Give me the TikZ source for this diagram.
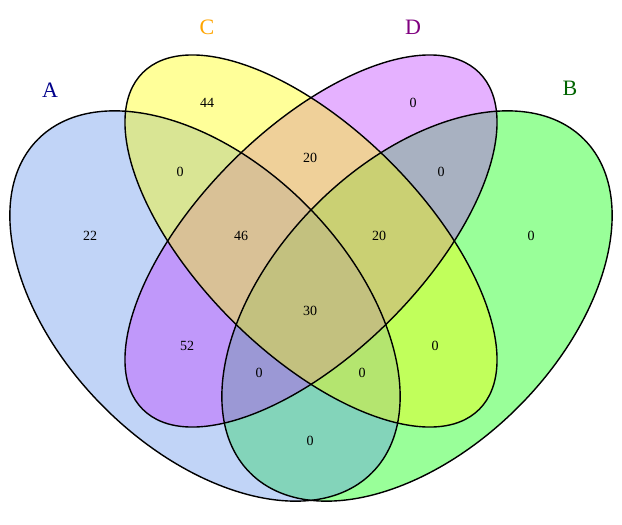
\documentclass[tikz,border=0pt]{standalone}
\usepackage{fontspec}
\setmainfont{Liberation Serif}
\begin{document}
\begin{tikzpicture}[x=1pt,y=-1pt,
  set/.style={fill opacity=0.4},
  edge/.style={draw=black,line width=1.4pt},
  num/.style={font=\fontsize{14}{14}\selectfont},
  lab/.style={font=\fontsize{22}{22}\selectfont}]
\useasboundingbox (0,0) rectangle (622,525);
\fill[white] (0,0) rectangle (622,525);
\definecolor{cA}{RGB}{100,149,237}
\definecolor{cB}{RGB}{0,255,0}
\definecolor{cC}{RGB}{255,255,0}
\definecolor{cD}{RGB}{191,62,255}
\fill[set,cB] (417,306) ellipse [x radius=236,y radius=143,rotate=45];
\fill[set,cA] (205,306) ellipse [x radius=236,y radius=143,rotate=-45];
\fill[set,cD] (311,241) ellipse [x radius=238,y radius=112,rotate=45];
\fill[set,cC] (311,241) ellipse [x radius=238,y radius=112,rotate=-45];
\draw[edge] (205,306) ellipse [x radius=236,y radius=143,rotate=-45];
\draw[edge] (417,306) ellipse [x radius=236,y radius=143,rotate=45];
\draw[edge] (311,241) ellipse [x radius=238,y radius=112,rotate=-45];
\draw[edge] (311,241) ellipse [x radius=238,y radius=112,rotate=45];
\node[lab,text={rgb,255:red,0;green,0;blue,139}] (lA) at (50,90) {A};
\node[lab,text={rgb,255:red,255;green,165;blue,0}] (lC) at (207,27) {C};
\node[lab,text={rgb,255:red,128;green,0;blue,128}] (lD) at (413,27) {D};
\node[lab,text={rgb,255:red,0;green,100;blue,0}] (lB) at (570,88) {B};
\node[num] (n1) at (207,103) {44};
\node[num] (n2) at (413,103) {0};
\node[num] (n3) at (180,172) {0};
\node[num] (n4) at (310,158) {20};
\node[num] (n5) at (441,172) {0};
\node[num] (n6) at (90,236) {22};
\node[num] (n7) at (241,236) {46};
\node[num] (n8) at (379,236) {20};
\node[num] (n9) at (531,236) {0};
\node[num] (n10) at (310,311) {30};
\node[num] (n11) at (187,346) {52};
\node[num] (n12) at (435,346) {0};
\node[num] (n13) at (259,373) {0};
\node[num] (n14) at (362,373) {0};
\node[num] (n15) at (310,441) {0};
\end{tikzpicture}
\end{document}
